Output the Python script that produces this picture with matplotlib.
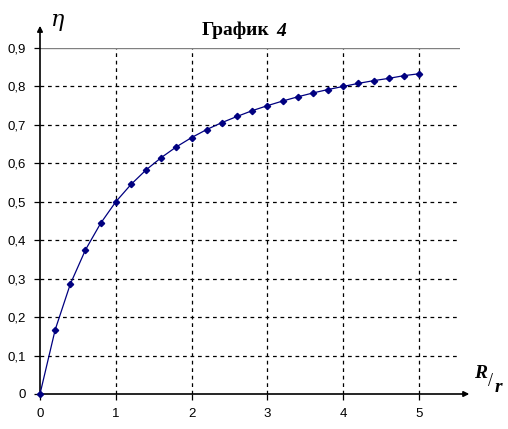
import matplotlib
matplotlib.use("Agg")
from matplotlib import pyplot as plt

# R/r ratio and efficiency
ratio = [0.0, 0.2, 0.4, 0.6, 0.8, 1.0, 1.2, 1.4, 1.6, 1.8, 2.0, 2.2, 2.4,
         2.6, 2.8, 3.0, 3.2, 3.4, 3.6, 3.8, 4.0, 4.2, 4.4, 4.6, 4.8, 5.0]
eta = [0.0, 0.167, 0.286, 0.375, 0.444, 0.5, 0.545, 0.583, 0.615, 0.643,
       0.667, 0.688, 0.706, 0.722, 0.737, 0.75, 0.762, 0.773, 0.783, 0.792,
       0.8, 0.808, 0.815, 0.821, 0.828, 0.833]
x_ticks = [0, 1, 2, 3, 4, 5]
y_ticks = [0, 0.1, 0.2, 0.3, 0.4, 0.5, 0.6, 0.7, 0.8, 0.9]

W, H = 508, 429
fig = plt.figure(figsize=(W / 100, H / 100), dpi=100)
ax = fig.add_axes([40 / W, (H - 394) / H, 420 / W, 346 / H])
ax.set_xlim(0, 420 / 75.8)
ax.set_ylim(0, 0.9)

ax.plot(ratio, eta, color="#000080", lw=0.9, marker="D", ms=3.2,
        markerfacecolor="#000080", markeredgecolor="#000080", clip_on=False, zorder=5)

for xv in x_ticks[1:]:
    ax.axvline(xv, color="black", lw=0.9, ls=(0, (3, 3)), zorder=1)
for yv in y_ticks[1:-1]:
    ax.axhline(yv, color="black", lw=0.9, ls=(0, (3, 3)), zorder=1)
ax.axhline(0.9, color="#808080", lw=1.0, zorder=1)

for s in ["top", "right", "left", "bottom"]:
    ax.spines[s].set_visible(False)

# axes with arrows
ax.annotate("", xy=(5.7, 0), xytext=(0, 0), xycoords="data",
            arrowprops=dict(arrowstyle="-|>", color="black", lw=1.2, mutation_scale=8),
            annotation_clip=False)
ax.annotate("", xy=(0, 0.965), xytext=(0, 0), xycoords="data",
            arrowprops=dict(arrowstyle="-|>", color="black", lw=1.2, mutation_scale=8),
            annotation_clip=False)

ax.set_xticks(x_ticks)
ax.set_xticklabels([str(v) for v in x_ticks])
ax.set_yticks(y_ticks)
ax.set_yticklabels(["0"] + [f"{v:.1f}".replace(".", ",") for v in y_ticks[1:]])
ax.tick_params(direction="out", length=4, width=0.9, labelsize=9.5, pad=6)
for lab in ax.get_xticklabels() + ax.get_yticklabels():
    lab.set_fontfamily("Liberation Sans")

fig.text(236 / W, 1 - 30 / H, "График", fontsize=14, fontweight="bold",
         family="Liberation Serif", ha="center", va="center")
fig.text(281 / W, 1 - 31 / H, "4", fontsize=14, fontweight="bold", style="italic",
         family="Liberation Serif", ha="center", va="center")
fig.text(58 / W, 1 - 20 / H, "η", fontsize=16, style="italic",
         family="DejaVu Serif", ha="center", va="center")
fig.text(481 / W, 1 - 373 / H, "R", fontsize=14, fontweight="bold", style="italic",
         family="Liberation Serif", ha="center", va="center")
fig.text(491 / W, 1 - 381 / H, "/", fontsize=13, family="Liberation Serif",
         ha="center", va="center")
fig.text(498 / W, 1 - 387 / H, "r", fontsize=14, fontweight="bold", style="italic",
         family="Liberation Serif", ha="center", va="center")

plt.savefig("out.png", dpi=100)
